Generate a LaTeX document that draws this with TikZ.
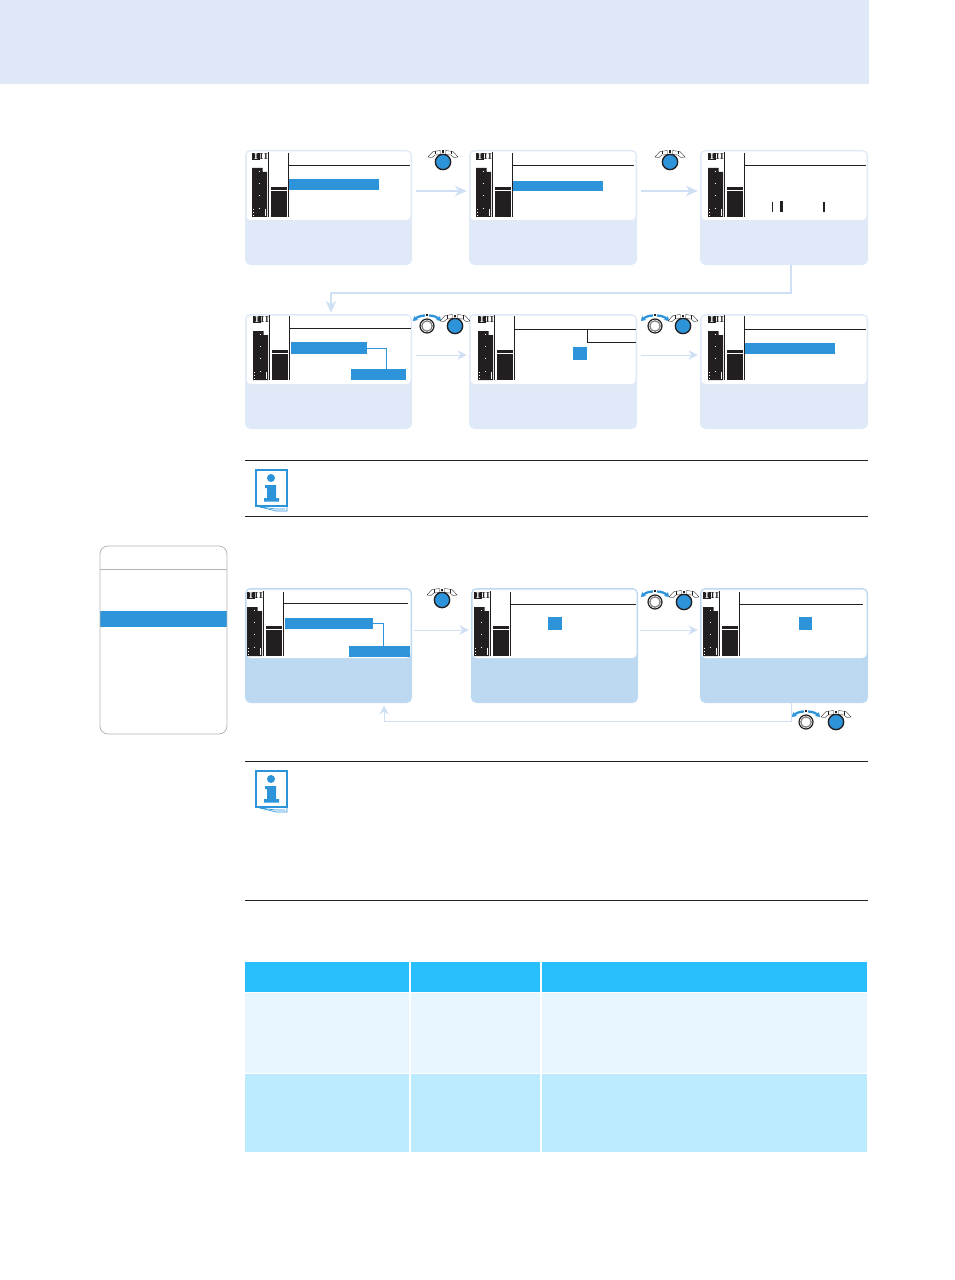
\documentclass[tikz,border=0pt]{standalone}
\usepackage{tikz}
\usetikzlibrary{calc, arrows.meta, fit}
\definecolor{color_band}{HTML}{DFE8F6}
\definecolor{color_panel}{HTML}{DFE9F8}
\definecolor{color_panel_dark}{HTML}{BDD9F2}
\definecolor{color_flow}{HTML}{CFE0F4}
\definecolor{color_blue}{HTML}{2E94DA}
\definecolor{color_ink}{HTML}{231F20}
\definecolor{color_mute}{HTML}{B4B4B4}
\definecolor{color_head}{HTML}{29BFFF}
\definecolor{color_row_a}{HTML}{E8F7FF}
\definecolor{color_row_b}{HTML}{BCEBFF}
\tikzset{
  panel_soft/.style={fill=color_panel, rounded corners=4pt, inner sep=0pt},
  panel_dark/.style={fill=color_panel_dark, rounded corners=4pt, inner sep=0pt},
  screen_box/.style={fill=white, rounded corners=3pt, inner sep=0pt},
  blue_box/.style={fill=color_blue, inner sep=0pt},
  cell_box/.style={inner sep=0pt},
  lcd_line/.style={draw=color_ink, line width=0.6pt},
  blue_line/.style={draw=color_blue, line width=0.7pt},
  flow_thin/.style={-{Stealth[length=7pt, width=7pt]}, draw=color_flow, line width=0.7pt},
  flow_thick/.style={-{Stealth[length=9pt, width=8pt]}, draw=color_flow, line width=1.2pt},
  rule_line/.style={draw=color_ink, line width=0.5pt},
  knob_cap/.style={draw=color_ink, line width=0.25pt, fill=white},
  knob_turn/.style={{Stealth[length=3.5pt, width=4.5pt]}-, draw=color_blue, line width=1.7pt},
  icon_text/.style={font=\fontsize{6.5}{6.5}\selectfont\bfseries, inner sep=0pt},
}
% panel with its white screen: name, style, x0, y0, x1, y1, bottom of screen
\newcommand{\lcdpanel}[7]{
  \node[#2, fit={(#3,#4)(#5,#6)}] (#1) {};
  \node[screen_box, fit={(#3+1.5,#4+1.5)(#5-1.5,#7)}] (#1_screen) {};
}
% level bars and channel icon, anchored top left of the screen
\newcommand{\lcdbars}[3]{
  \begin{scope}[shift={(#2,#3)}]
    \fill[color_ink] (0,0) rectangle (8,7);
    \node[icon_text, text=white] (#1_ch_a) at (4,3.5) {I};
    \node[icon_text, text=color_ink] (#1_ch_b) at (11.8,3.5) {II};
    \fill[color_ink] (0,15) -- (10.5,15) -- (10.5,19) -- (15,19) -- (15,64) -- (0,64) -- cycle;
    \fill[white] (13,56) rectangle (14,63);
    \foreach \ypos in {18,30,42,55} {
      \fill[white] (7,\ypos) rectangle (8,\ypos+1);
    }
    \foreach \ypos in {56,59,62} {
      \fill[white] (0.7,\ypos) rectangle (1.5,\ypos+1);
    }
    \draw[lcd_line] (16.5,-1) -- (16.5,64);
    \fill[color_ink] (19,34) rectangle (35,37);
    \fill[color_ink] (19,38) rectangle (35,64);
    \draw[lcd_line] (36.5,0) -- (36.5,64);
  \end{scope}
}
% push button
\newcommand{\pushknob}[3]{
  \begin{scope}[shift={(#2,#3)}]
    \draw[knob_cap] (-15,-5) -- (-10,-10.5) -- (-2.5,-11.5) -- (-2.5,-7.5) -- (-8,-7) -- (-11,-4.5) -- cycle;
    \draw[knob_cap] (15,-5) -- (10,-10.5) -- (2.5,-11.5) -- (2.5,-7.5) -- (8,-7) -- (11,-4.5) -- cycle;
    \draw[knob_cap] (-8,-11) -- (-8,-7.5);
    \draw[knob_cap] (8,-11) -- (8,-7.5);
    \fill[color_ink] (-1,-11.5) rectangle (1,-9);
    \node[circle, fill=color_blue, draw=color_ink, line width=1pt, inner sep=0pt, minimum size=11.5pt] (#1) at (0,0) {};
  \end{scope}
}
% turn wheel
\newcommand{\turnknob}[3]{
  \begin{scope}[shift={(#2,#3)}]
    \draw[knob_turn] (-14,-5) .. controls (-10,-9) and (-6,-10.5) .. (-2,-10.5);
    \draw[knob_turn] (14,-5) .. controls (10,-9) and (6,-10.5) .. (2,-10.5);
    \fill[color_ink] (-0.8,-12.5) rectangle (0.8,-10);
    \node[circle, fill=white, draw=color_ink, line width=0.9pt, inner sep=0pt, minimum size=10.5pt] (#1) at (0,0) {};
    \draw[color_mute!70!black, line width=0.9pt] (0,0) circle (5.2);
  \end{scope}
}
% info sheet
\newcommand{\infoicon}[2]{
  \begin{scope}[shift={(#1,#2)}]
    \draw[color_blue, line width=0.9pt, fill=white] (0,0) rectangle (31,36);
    \draw[color_blue, line width=0.5pt] (0,36) -- (20,41) -- (31,41) -- (31,36);
    \draw[color_blue, line width=0.5pt] (4,37) -- (20,39) -- (29,39);
    \fill[color_blue] (15,8) circle (4);
    \fill[color_blue] (9,15) -- (20,15) -- (20,28) -- (23,28) -- (23,31.5) -- (8,31.5) -- (8,28) -- (11,28) -- (11,18) -- (9,18) -- cycle;
  \end{scope}
}
\begin{document}
\begin{tikzpicture}[x=0.75pt, y=-0.75pt]
  \useasboundingbox (0,0) rectangle (954,1280);
  \fill[color_band] (0,0) rectangle (869,84);
  % first row
  \lcdpanel{panel_a}{panel_soft}{245}{150}{412}{265}{220}
  \lcdpanel{panel_b}{panel_soft}{469}{150}{637}{265}{220}
  \lcdpanel{panel_c}{panel_soft}{700}{150}{868}{265}{220}
  \lcdbars{lcd_a}{252}{153}
  \lcdbars{lcd_b}{476}{153}
  \lcdbars{lcd_c}{708}{153}
  \draw[lcd_line] (288,165) -- (410,165);
  \draw[lcd_line] (512,165) -- (634,165);
  \draw[lcd_line] (744,165) -- (866,165);
  \node[blue_box, fit={(289,179)(379,190)}] (bar_a) {};
  \node[blue_box, fit={(513,181)(603,191)}] (bar_b) {};
  \fill[color_ink] (772,202) rectangle (773,212);
  \fill[color_ink] (780,201) rectangle (783,212);
  \fill[color_ink] (823,202) rectangle (825,212);
  % second row
  \lcdpanel{panel_d}{panel_soft}{245}{314}{412}{429}{384}
  \lcdpanel{panel_e}{panel_soft}{469}{314}{637}{429}{384}
  \lcdpanel{panel_f}{panel_soft}{700}{314}{868}{429}{384}
  \lcdbars{lcd_d}{253}{316}
  \lcdbars{lcd_e}{478}{316}
  \lcdbars{lcd_f}{708}{316}
  \draw[lcd_line] (289,328) -- (411,328);
  \draw[lcd_line] (514,329) -- (636,329);
  \draw[lcd_line] (587,329) |- (636,342);
  \draw[lcd_line] (744,329) -- (866,329);
  \node[blue_box, fit={(291,342)(367,354)}] (bar_d) {};
  \node[blue_box, fit={(351,369)(406,380)}] (bar_e) {};
  \draw[blue_line] (bar_d.east) -| (bar_e.north -| 386,0);
  \node[blue_box, fit={(573,347)(587,360)}] (square_e) {};
  \node[blue_box, fit={(745,343)(835,354)}] (bar_f) {};
  % third row
  \lcdpanel{panel_g}{panel_dark}{245}{588}{412}{703}{658}
  \lcdpanel{panel_h}{panel_dark}{471}{588}{638}{703}{658}
  \lcdpanel{panel_i}{panel_dark}{700}{588}{868}{703}{658}
  \lcdbars{lcd_g}{247}{592}
  \lcdbars{lcd_h}{474}{592}
  \lcdbars{lcd_i}{703}{592}
  \draw[lcd_line] (284,603) -- (408,603);
  \draw[lcd_line] (511,604) -- (636,604);
  \draw[lcd_line] (739,604) -- (863,604);
  \node[blue_box, fit={(285,618)(373,629)}] (bar_g) {};
  \node[blue_box, fit={(349,646)(410,657)}] (bar_h) {};
  \draw[blue_line] (bar_g.east) -| (bar_h.north -| 383,0);
  \node[blue_box, fit={(548,617)(562,630)}] (square_h) {};
  \node[blue_box, fit={(799,617)(812,630)}] (square_i) {};
  % flow between the panels
  \draw[flow_thick] ($(panel_a.east)+(4,-16.5)$) -- ($(panel_b.west)+(-2,-16.5)$);
  \draw[flow_thick] ($(panel_b.east)+(4,-16.5)$) -- ($(panel_c.west)+(-2,-16.5)$);
  \draw[flow_thick] ($(panel_c.south)+(7,0)$) |- ($(panel_d.north)+(2.5,-21)$) -- ($(panel_d.north)+(2.5,-1)$);
  \draw[flow_thin] ($(panel_d.east)+(4,-16.5)$) -- ($(panel_e.west)+(-2,-16.5)$);
  \draw[flow_thin] ($(panel_e.east)+(4,-16.5)$) -- ($(panel_f.west)+(-2,-16.5)$);
  \draw[flow_thin] ($(panel_g.east)+(2,-15.5)$) -- ($(panel_h.west)+(-2,-15.5)$);
  \draw[flow_thin] ($(panel_h.east)+(2,-15.5)$) -- ($(panel_i.west)+(-2,-15.5)$);
  \draw[flow_thin] ($(panel_i.south)+(7,0)$) |- ($(panel_g.south)+(55.5,18)$) -- ($(panel_g.south)+(55.5,2)$);
  % knobs
  \pushknob{push_a}{443}{162}
  \pushknob{push_b}{670}{162}
  \turnknob{turn_d}{427}{326}
  \pushknob{push_d}{455}{326}
  \turnknob{turn_e}{655}{326}
  \pushknob{push_e}{683}{326}
  \pushknob{push_g}{442}{600}
  \turnknob{turn_h}{655}{602}
  \pushknob{push_h}{684}{602}
  \turnknob{turn_i}{806}{722}
  \pushknob{push_i}{836}{722}
  % notes
  \draw[rule_line] (245,460) -- (868,460);
  \draw[rule_line] (245,516) -- (868,516);
  \infoicon{256}{470}
  \draw[rule_line] (245,761) -- (868,761);
  \draw[rule_line] (245,900) -- (868,900);
  \infoicon{256}{771}
  % side menu
  \node[blue_box, fit={(100,611)(227,627)}] (menu_bar) {};
  \draw[color_mute, line width=0.6pt, rounded corners=6pt] (100,546) rectangle (227,734);
  \draw[color_mute, line width=0.6pt] (100,569) -- (227,569);
  % table
  \node[cell_box, fill=color_head, fit={(245,962)(409,992)}] (head_a) {};
  \node[cell_box, fill=color_head, fit={(411,962)(540,992)}] (head_b) {};
  \node[cell_box, fill=color_head, fit={(542,962)(867,992)}] (head_c) {};
  \node[cell_box, fill=color_row_a, fit={(245,993)(409,1073)}] (row_a_a) {};
  \node[cell_box, fill=color_row_a, fit={(411,993)(540,1073)}] (row_a_b) {};
  \node[cell_box, fill=color_row_a, fit={(542,993)(867,1073)}] (row_a_c) {};
  \node[cell_box, fill=color_row_b, fit={(245,1074)(409,1152)}] (row_b_a) {};
  \node[cell_box, fill=color_row_b, fit={(411,1074)(540,1152)}] (row_b_b) {};
  \node[cell_box, fill=color_row_b, fit={(542,1074)(867,1152)}] (row_b_c) {};
\end{tikzpicture}
\end{document}
